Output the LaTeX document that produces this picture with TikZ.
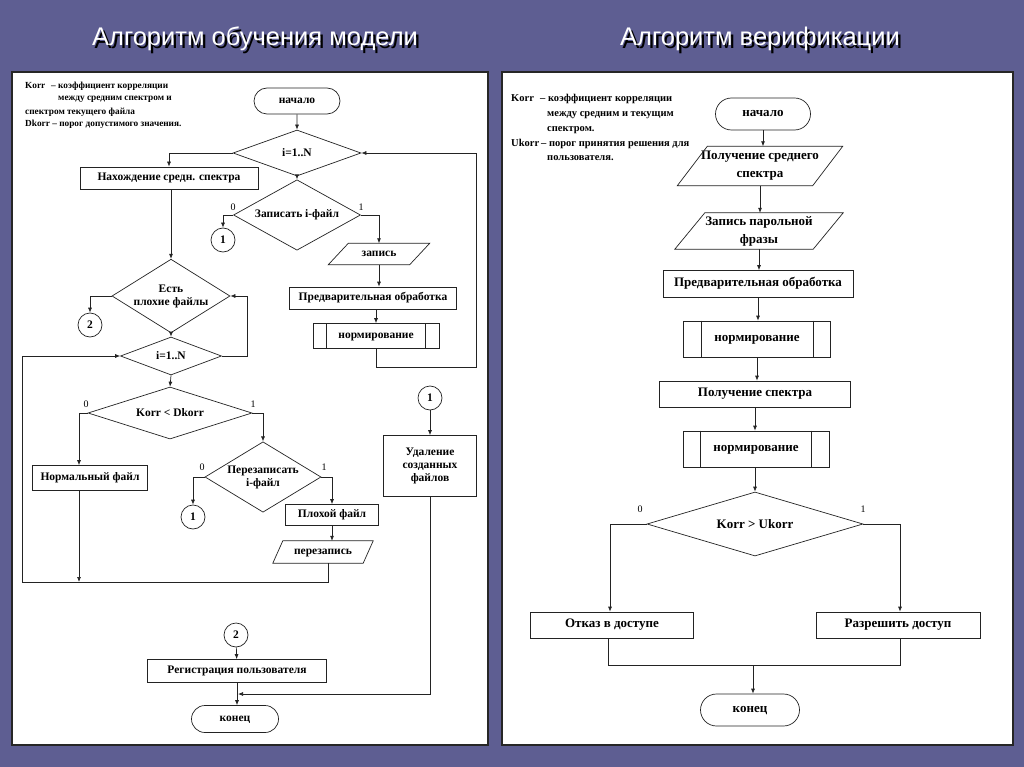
\documentclass[tikz,border=0pt]{standalone}
\usepackage{fontspec}
\setmainfont{Liberation Serif}
\newfontfamily\titlefont{Liberation Sans}
\usetikzlibrary{shapes.geometric,shapes.misc,arrows.meta,calc}
\definecolor{bg}{RGB}{94,94,146}
\definecolor{ln}{RGB}{35,35,35}
\begin{document}
\begin{tikzpicture}[x=1pt,y=-1pt,
  line/.style={draw=ln, line width=0.7pt},
  arr/.style={line, -{Latex[length=5pt,width=4pt]}},
  fl/.style={font=\bfseries\fontsize{11.5}{13}\selectfont},
  fr/.style={font=\bfseries\fontsize{13}{18}\selectfont},
  sl/.style={text height=0.45em, text depth=0pt},
  ml/.style={align=center, text height=, text depth=},
  box/.style={rectangle, draw=ln, line width=0.7pt, inner sep=0pt, sl},
  pbox/.style={rectangle, draw=none, inner sep=0pt, sl},
  term/.style={rounded rectangle, draw=ln, line width=0.7pt, inner sep=0pt, sl},
  dia/.style={diamond, draw=ln, line width=0.7pt, inner sep=-6pt},
  conn/.style={circle, draw=ln, line width=0.7pt, inner sep=0pt, minimum size=24pt},
  lab/.style={font=\fontsize{10}{11}\selectfont, inner sep=0pt},
  lgL/.style={font=\bfseries\fontsize{9.3}{10}\selectfont, inner sep=0pt, anchor=base west},
  lgR/.style={font=\bfseries\fontsize{10.5}{11}\selectfont, inner sep=0pt, anchor=base west},
  ttl/.style={font=\titlefont\fontsize{25.5}{28}\selectfont, inner sep=0pt}
]
\useasboundingbox (0,0) rectangle (1024,767);
\fill[bg] (0,0) rectangle (1024,767);
% titles (white text with dark drop shadow)
\node[ttl, text=black] (t1s) at (257.5,41.5) {Алгоритм обучения модели};
\node[ttl, text=white] (t1) at (255,39) {Алгоритм обучения модели};
\node[ttl, text=black] (t2s) at (762.5,41.5) {Алгоритм верификации};
\node[ttl, text=white] (t2) at (760,39) {Алгоритм верификации};
% panels
\filldraw[fill=white, draw=black!85, line width=1.5pt] (12,72) rectangle (488,745);
\filldraw[fill=white, draw=black!85, line width=1.5pt] (502,72) rectangle (1013,745);

% ---------- left legend
\node[lgL] (lk1) at (25,89) {Korr};
\node[lgL] (lk1b) at (51,89) {– коэффициент корреляции};
\node[lgL] (lk2) at (58,101) {между средним спектром и};
\node[lgL] (lk3) at (25,115) {спектром текущего файла};
\node[lgL] (lk4) at (25,127) {Dkorr – порог допустимого значения.};

% ---------- left flowchart
\node[term, fl, minimum width=86pt, minimum height=26pt] (s1) at (297,101) {начало};
\node[dia, fl, minimum width=128pt, minimum height=46pt] (d1) at (297,153) {i=1..N};
\node[box, fl, minimum width=178pt, minimum height=22pt] (nah) at (169,178) {Нахождение средн. спектра};
\node[dia, fl, minimum width=127pt, minimum height=53pt] (d2) at (297,215) {Записать i-файл};
\node[conn, fl] (c1a) at (223,240) {1};
\node[pbox, fl, minimum width=101pt, minimum height=21pt] (zap) at (379,254) {запись};
\draw[line] (zap.south west) -- ([xshift=20pt]zap.north west) -- (zap.north east) -- ([xshift=-20pt]zap.south east) -- cycle;
\node[box, fl, minimum width=167pt, minimum height=22pt] (pre1) at (373,298) {Предварительная обработка};
\node[box, fl, minimum width=126pt, minimum height=25pt] (n1) at (376,336) {нормирование};
\draw[line] ([xshift=14pt]n1.north west) -- ([xshift=14pt]n1.south west);
\draw[line] ([xshift=-14pt]n1.north east) -- ([xshift=-14pt]n1.south east);
\node[dia, fl, ml, minimum width=118pt, minimum height=52pt] (d3) at (171,296) {Есть\\плохие файлы};
\node[conn, fl] (c2a) at (90,325) {2};
\node[dia, fl, minimum width=101pt, minimum height=38pt] (d4) at (171,356) {i=1..N};
\node[dia, fl, minimum width=164pt, minimum height=52pt] (d5) at (170,413) {Korr < Dkorr};
\node[box, fl, minimum width=115pt, minimum height=25pt] (nf) at (90,478) {Нормальный файл};
\node[dia, fl, ml, minimum width=116pt, minimum height=54pt] (d6) at (263,477) {Перезаписать\\i-файл};
\node[conn, fl] (c1b) at (193,517) {1};
\node[box, fl, minimum width=93pt, minimum height=21pt] (bad) at (332,515) {Плохой файл};
\node[pbox, fl, minimum width=100pt, minimum height=22pt] (pz) at (323,552) {перезапись};
\draw[line] (pz.south west) -- ([xshift=10pt]pz.north west) -- (pz.north east) -- ([xshift=-10pt]pz.south east) -- cycle;
\node[conn, fl] (c1c) at (430,398) {1};
\node[box, fl, ml, minimum width=93pt, minimum height=61pt] (del) at (430,466) {Удаление\\созданных\\файлов};
\node[conn, fl] (c2b) at (236,635) {2};
\node[box, fl, minimum width=179pt, minimum height=23pt] (reg) at (237,671) {Регистрация пользователя};
\node[term, fl, minimum width=87pt, minimum height=27pt] (e1) at (235,719) {конец};

% branch labels
\node[lab] (l20) at (233,207) {0};
\node[lab] (l21) at (361,207) {1};
\node[lab] (l50) at (86,404) {0};
\node[lab] (l51) at (253,404) {1};
\node[lab] (l60) at (202,467) {0};
\node[lab] (l61) at (324,467) {1};

% left connectors
\coordinate (lp1) at (476,367);
\coordinate (lp2) at (247,356);
\coordinate (lb) at (22,582);
\coordinate (jn) at (238,694);
\draw[arr] (s1) -- (d1);
\draw[arr] (d1.west) -| (nah.north);
\draw[arr] (d1.south) -- (d2.north);
\draw[arr] (d2.west) -| (c1a.north);
\draw[arr] (d2.east) -| (zap.north);
\draw[arr] (zap.south) -- (zap.south |- pre1.north);
\draw[arr] (n1.north |- pre1.south) -- (n1.north);
\draw[arr] (n1.south) |- (lp1) |- (d1.east);
\draw[arr] (nah.south -| d3.north) -- (d3.north);
\draw[arr] (d3.west) -| (c2a.north);
\draw[arr] (d3.south) -- (d4.north);
\draw[arr] (d4.east) -- (lp2) |- (d3.east);
\draw[arr] (d4.south) -- (d5.north);
\draw[arr] (d5.west) -| ([xshift=-11pt]nf.north);
\draw[arr] (d5.east) -| (d6.north);
\draw[arr] (d6.west) -| (c1b.north);
\draw[arr] (d6.east) -| (bad.north);
\draw[arr] (bad.south) -- (bad.south |- pz.north);
\draw[arr] ([xshift=5pt]pz.south) |- (lb) |- (d4.west);
\draw[arr] ([xshift=-11pt]nf.south) -- ([xshift=-11pt]nf.south |- lb);
\draw[arr] (c1c) -- (del);
\draw[arr] (del.south) |- (jn);
\draw[arr] (c2b) -- (reg);
\draw[arr] (reg.south) -- (reg.south |- e1.north);

% ---------- right legend
\node[lgR] (rk1) at (511,102) {Korr};
\node[lgR] (rk1b) at (540,102) {– коэффициент корреляции};
\node[lgR] (rk2) at (547,117) {между средним и текущим};
\node[lgR] (rk3) at (547,132) {спектром.};
\node[lgR] (rk4) at (511,147) {Ukorr};
\node[lgR] (rk4b) at (541,147) {– порог принятия решения для};
\node[lgR] (rk5) at (547,161) {пользователя.};

% ---------- right flowchart
\node[term, fr, minimum width=95pt, minimum height=32pt] (s2) at (763,114) {начало};
\node[pbox, fr, ml, minimum width=165pt, minimum height=39pt] (pol) at (760,166) {Получение среднего\\спектра};
\draw[line] (pol.south west) -- ([xshift=30pt]pol.north west) -- (pol.north east) -- ([xshift=-30pt]pol.south east) -- cycle;
\node[pbox, fr, ml, minimum width=168pt, minimum height=36pt] (zp) at (759,231) {Запись парольной\\фразы};
\draw[line] (zp.south west) -- ([xshift=30pt]zp.north west) -- (zp.north east) -- ([xshift=-30pt]zp.south east) -- cycle;
\node[box, fr, minimum width=190pt, minimum height=27pt] (pre2) at (758,284) {Предварительная обработка};
\node[box, fr, minimum width=147pt, minimum height=36pt] (n2) at (757,339) {нормирование};
\draw[line] ([xshift=18pt]n2.north west) -- ([xshift=18pt]n2.south west);
\draw[line] ([xshift=-18pt]n2.north east) -- ([xshift=-18pt]n2.south east);
\node[box, fr, minimum width=191pt, minimum height=26pt] (ps) at (755,394) {Получение спектра};
\node[box, fr, minimum width=146pt, minimum height=36pt] (n3) at (756,449) {нормирование};
\draw[line] ([xshift=18pt]n3.north west) -- ([xshift=18pt]n3.south west);
\draw[line] ([xshift=-18pt]n3.north east) -- ([xshift=-18pt]n3.south east);
\node[dia, fr, minimum width=216pt, minimum height=64pt] (d7) at (755,524) {Korr > Ukorr};
\node[box, fr, minimum width=163pt, minimum height=26pt] (otk) at (612,625) {Отказ в доступе};
\node[box, fr, minimum width=164pt, minimum height=26pt] (raz) at (898,625) {Разрешить доступ};
\node[term, fr, minimum width=99pt, minimum height=32pt] (e2) at (750,710) {конец};
\node[lab] (l70) at (640,509) {0};
\node[lab] (l71) at (863,509) {1};

\coordinate (mj) at (753,665);
\draw[arr] (s2.south) -- (s2.south |- pol.north);
\draw[arr] (pol.south) -- (pol.south |- zp.north);
\draw[arr] (zp.south) -- (zp.south |- pre2.north);
\draw[arr] (pre2.south) -- (pre2.south |- n2.north);
\draw[arr] (n2.south) -- (n2.south |- ps.north);
\draw[arr] (ps.south) -- (ps.south |- n3.north);
\draw[arr] (n3.south -| d7.north) -- (d7.north);
\draw[arr] (d7.west) -| ([xshift=-2pt]otk.north);
\draw[arr] (d7.east) -| ([xshift=2pt]raz.north);
\draw[line] ([xshift=-4pt]otk.south) |- (mj);
\draw[line] ([xshift=2pt]raz.south) |- (mj);
\draw[arr] (mj) -- (mj |- e2.north);
\end{tikzpicture}
\end{document}
